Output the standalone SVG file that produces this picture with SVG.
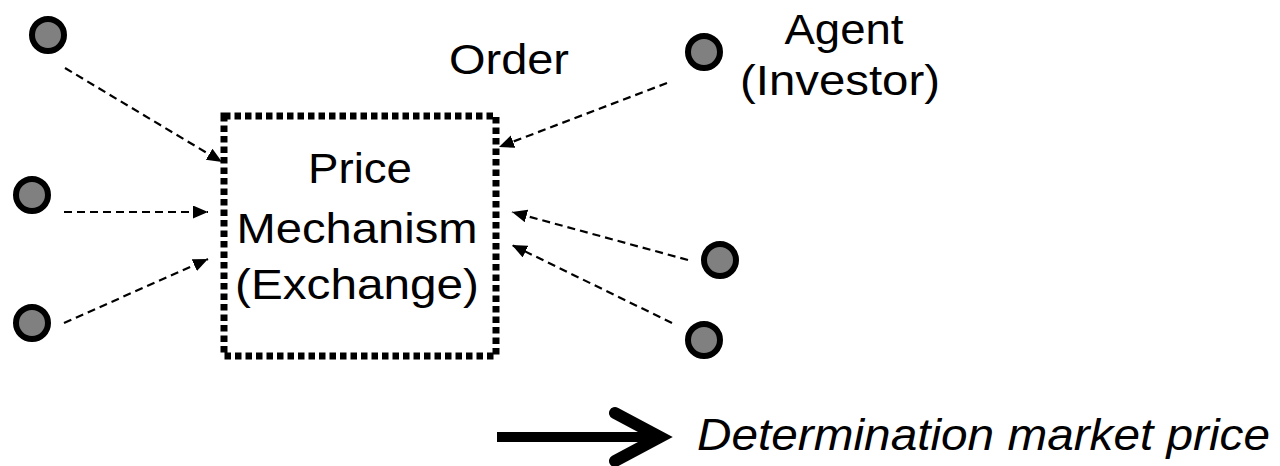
<svg xmlns="http://www.w3.org/2000/svg" width="1280" height="466" viewBox="0 0 1280 466">
<defs>
<style>
.agent{fill:#808080;stroke:#000;stroke-width:6}
.conn{stroke:#000;stroke-width:2.2;stroke-dasharray:8 5;fill:none;marker-end:url(#ah)}
.lbl{font-family:"Liberation Sans",Arial,sans-serif;font-size:42px;fill:#000;text-anchor:middle}
</style>
<marker id="ah" markerUnits="userSpaceOnUse" markerWidth="16" markerHeight="14" refX="15" refY="6.5" orient="auto" viewBox="0 0 16 14">
<path d="M0,0 L15,6.5 L0,13 z" fill="#000"/>
</marker>
</defs>
<rect width="1280" height="466" fill="#fff"/>
<g id="connectors">
<line class="conn" x1="65" y1="68" x2="222" y2="162"/>
<line class="conn" x1="64" y1="212" x2="208" y2="212"/>
<line class="conn" x1="64" y1="323" x2="208" y2="259"/>
<line class="conn" x1="667" y1="83" x2="499" y2="147"/>
<line class="conn" x1="688" y1="260" x2="512" y2="212"/>
<line class="conn" x1="672" y1="323" x2="512" y2="245"/>
</g>
<g id="exchange">
<rect x="224" y="116" width="272" height="240" fill="none" stroke="#000" stroke-width="7" stroke-dasharray="6.5 4"/>
<text class="lbl" x="360" y="183" textLength="104" lengthAdjust="spacingAndGlyphs">Price</text>
<text class="lbl" x="357" y="243" textLength="241" lengthAdjust="spacingAndGlyphs">Mechanism</text>
<text class="lbl" x="357" y="299" textLength="244" lengthAdjust="spacingAndGlyphs">(Exchange)</text>
</g>
<g id="agent1"><circle class="agent" cx="48" cy="35" r="16"/></g>
<g id="agent2"><circle class="agent" cx="32" cy="195" r="16"/></g>
<g id="agent3"><circle class="agent" cx="32" cy="323" r="16"/></g>
<g id="agent4"><circle class="agent" cx="704" cy="52" r="16"/></g>
<g id="agent5"><circle class="agent" cx="720" cy="260" r="16"/></g>
<g id="agent6"><circle class="agent" cx="704" cy="340" r="16"/></g>
<g id="order-label">
<text class="lbl" x="509" y="74" textLength="120" lengthAdjust="spacingAndGlyphs">Order</text>
</g>
<g id="agent-label">
<text class="lbl" x="844" y="44" textLength="119" lengthAdjust="spacingAndGlyphs">Agent</text>
<text class="lbl" x="840" y="95" textLength="200" lengthAdjust="spacingAndGlyphs">(Investor)</text>
</g>
<g id="result">
<line x1="497" y1="437" x2="662" y2="437" stroke="#000" stroke-width="10"/>
<polyline points="615,413 660,437 615,461" fill="none" stroke="#000" stroke-width="12" stroke-linecap="round" stroke-linejoin="miter" stroke-miterlimit="10"/>
<text x="697" y="450" font-family="'Liberation Sans',Arial,sans-serif" font-size="45" font-style="italic" textLength="573" lengthAdjust="spacingAndGlyphs">Determination market price</text>
</g>
</svg>
